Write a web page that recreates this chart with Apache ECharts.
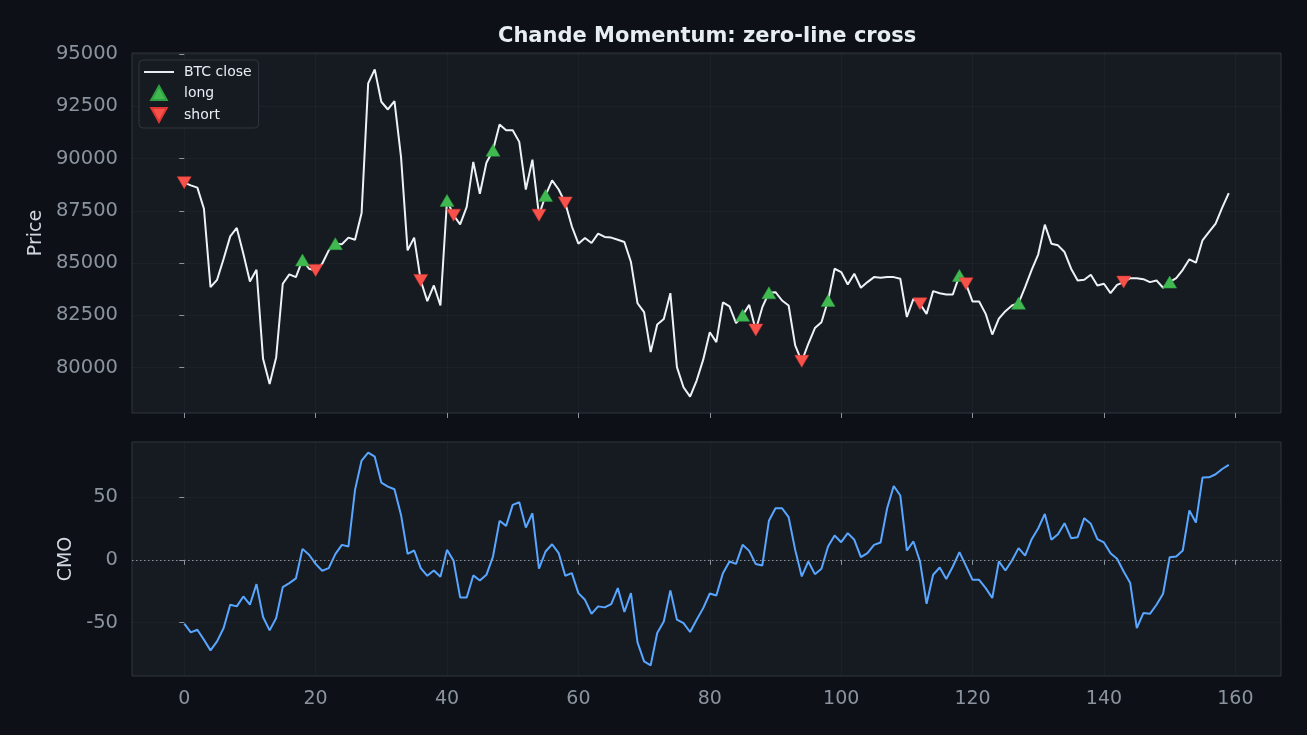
<!DOCTYPE html>
<html>
<head>
<meta charset="utf-8">
<title>Chande Momentum</title>
<script src="https://cdn.jsdelivr.net/npm/echarts@6.0.0/dist/echarts.min.js"></script>
<style>
  html, body { margin: 0; padding: 0; background: #0d1117; }
  #chart { width: 1307px; height: 735px; }
</style>
</head>
<body>
<div id="chart"></div>
<script>
/* data */
var btcClose = [
  88850, 88720, 88610, 87600, 83850, 84200, 85210, 86280, 86680, 85450,
  84120, 84680, 80420, 79220, 80500, 84010, 84460, 84330, 85150, 84730,
  84650, 84970, 85610, 85930, 85900, 86220, 86120, 87400, 93600, 94270,
  92720, 92350, 92750, 90080, 85610, 86220, 84170, 83180, 83930, 82970,
  88000, 87290, 86850, 87690, 89840, 88320, 89800, 90400, 91630, 91360,
  91360, 90800, 88520, 89950, 87290, 88240, 88960, 88520, 87880, 86760,
  85930, 86200, 85960, 86410, 86250, 86220, 86120, 86010, 85050, 83080,
  82650, 80740, 82060, 82330, 83560, 80020, 79060, 78610, 79380, 80380,
  81690, 81220, 83120, 82930, 82130, 82500, 83000, 81800, 82890, 83580,
  83610, 83210, 82970, 81060, 80300, 81140, 81890, 82170, 83210, 84730,
  84570, 83980, 84490, 83820, 84090, 84330, 84300, 84330, 84330, 84250,
  82420, 83290, 83050, 82570, 83660, 83560, 83500, 83500, 84410, 84010,
  83160, 83160, 82570, 81580, 82340, 82700, 82970, 83080, 83850, 84680,
  85420, 86840, 85930, 85850, 85530, 84730, 84170, 84200, 84440, 83930,
  84010, 83560, 83960, 84090, 84280, 84280, 84230, 84090, 84170, 83820,
  84090, 84280, 84680, 85180, 85020, 86090, 86490, 86890, 87650, 88350
];
var cmo = [
  -50.8, -57.7, -55.6, -63.5, -72, -64.8, -54.2, -35.7, -37, -29.1,
  -35.7, -19.3, -45.5, -56.1, -46.3, -21.7, -18.5, -14.8, 8.7, 4,
  -3.2, -8.7, -6.6, 4.5, 11.9, 10.6, 55.6, 78.9, 85.2, 82,
  61.4, 58.2, 56.1, 35.7, 4.8, 7.4, -6.6, -12.7, -8.5, -13.5,
  7.9, -0.8, -29.9, -29.9, -12.4, -16.4, -11.9, 2.6, 31, 27,
  43.7, 45.8, 25.7, 37, -7.1, 6.6, 12.4, 5.3, -12.7, -10.6,
  -26.5, -31.8, -42.9, -37, -37.8, -35.2, -22.5, -41.5, -26.5, -65.6,
  -80.7, -83.9, -58.2, -49, -24.3, -47.6, -50.3, -57.4, -47.6, -38.4,
  -26.8, -28.3, -10.6, -1.3, -3.2, 11.9, 7.1, -3.4, -4.5, 31,
  41, 41, 33.9, 7.9, -13.2, -1.3, -11.4, -7.1, 10.6, 19.3,
  14, 21.2, 15.9, 2.1, 5.3, 11.9, 13.8, 41, 58.7, 51.1,
  7.4, 14.6, -1.3, -34.9, -11.9, -6.1, -15.3, -5.3, 6.1, -4.8,
  -15.9, -15.9, -22.5, -30.4, -1.3, -8.5, -0.5, 9.3, 3.4, 16.4,
  25.1, 36.5, 15.9, 20.4, 29.1, 17.2, 18, 33.1, 28.6, 16.4,
  13.8, 5.3, 0.8, -9.3, -18.5, -54.2, -42.3, -42.9, -35.7, -27,
  2.1, 2.6, 7.4, 39.2, 29.6, 65.4, 65.6, 68, 72.2, 75.4
];
var longIdx = [18, 23, 40, 47, 55, 85, 89, 98, 118, 127, 150];
var shortIdx = [0, 20, 36, 41, 54, 58, 87, 94, 112, 119, 143];
var xTicks = [0, 20, 40, 60, 80, 100, 120, 140, 160];
var priceTicks = [80000, 82500, 85000, 87500, 90000, 92500, 95000];
var cmoTicks = [-50, 0, 50];

function chandeChart(){
  var dom = document.getElementById('chart');
  var myChart = echarts.init(dom, null, { renderer: 'canvas' });

  var font = 'DejaVu Sans';
  var tickColor = '#8b949e';
  var frame = '#30363d';
  var gridLine = 'rgba(255,255,255,0.028)';
  var upTri = 'path://M5,0 L10,9 L0,9 Z';
  var downTri = 'path://M0,0 L10,0 L5,9 Z';

  var closePts = btcClose.map(function(v, i){ return [i, v]; });
  var cmoPts = cmo.map(function(v, i){ return [i, v]; });
  var longPts = longIdx.map(function(i){ return [i, btcClose[i]]; });
  var shortPts = shortIdx.map(function(i){ return [i, btcClose[i]]; });

  function plain(v){ return String(v); }

  function xAx(gi, showLabels){
    return {
      type: 'value', gridIndex: gi, min: -7.95, max: 166.95,
      axisLine: { show: false },
      axisTick: { show: true, length: 5, lineStyle: { color: tickColor }, customValues: xTicks },
      axisLabel: { show: showLabels, color: tickColor, fontSize: 19, fontFamily: font, margin: 14,
                   customValues: xTicks, formatter: plain },
      splitLine: { show: true, lineStyle: { color: gridLine, width: 1 } }
    };
  }
  function yAx(gi, min, max, ticks, name, gap){
    return {
      type: 'value', gridIndex: gi, min: min, max: max,
      name: name, nameLocation: 'middle', nameGap: gap,
      nameTextStyle: { color: '#d0d7de', fontSize: 19, fontFamily: font },
      axisLine: { show: false },
      axisTick: { show: true, length: 5, lineStyle: { color: tickColor }, customValues: ticks },
      axisLabel: { color: tickColor, fontSize: 19.5, fontFamily: font, margin: 14,
                   customValues: ticks, formatter: plain },
      splitLine: { show: true, lineStyle: { color: gridLine, width: 1 } }
    };
  }

  var option = {
    backgroundColor: '#0d1117',
    animation: false,
    title: {
      text: 'Chande Momentum: zero-line cross',
      left: 493, top: 21,
      textStyle: { color: '#e6edf3', fontSize: 21, fontWeight: 'bold', fontFamily: font }
    },
    legend: {
      orient: 'vertical', left: 139, top: 60,
      backgroundColor: '#161b22', borderColor: frame, borderWidth: 1, borderRadius: 4,
      padding: [5, 7, 5, 5], itemGap: 6, itemWidth: 30, itemHeight: 14,
      textStyle: { color: '#e6edf3', fontSize: 14, fontFamily: font, padding: [0, 0, 0, 5] },
      data: [
        { name: 'BTC close', icon: 'path://M0,0 L30,0 L30,2 L0,2 Z' },
        { name: 'long', icon: upTri, itemStyle: { opacity: 1 } },
        { name: 'short', icon: downTri, itemStyle: { opacity: 1 } }
      ]
    },
    grid: [
      { left: 132, top: 53, width: 1149, height: 360, show: true, backgroundColor: '#161b22', borderColor: frame, borderWidth: 1 },
      { left: 132, top: 442, width: 1149, height: 234, show: true, backgroundColor: '#161b22', borderColor: frame, borderWidth: 1 }
    ],
    xAxis: [ xAx(0, false), xAx(1, true) ],
    yAxis: [
      yAx(0, 77827, 95053, priceTicks, 'Price', 80),
      yAx(1, -92.35, 93.65, cmoTicks, 'CMO', 53)
    ],
    series: [
      {
        name: 'BTC close', type: 'line', xAxisIndex: 0, yAxisIndex: 0,
        data: closePts, showSymbol: false, color: '#e6edf3',
        lineStyle: { width: 2, color: '#eef2f6' }, z: 2
      },
      {
        name: 'long', type: 'scatter', xAxisIndex: 0, yAxisIndex: 0,
        data: longPts, symbol: upTri, symbolSize: [14, 12], color: '#3fb950',
        itemStyle: { color: '#3fb950', borderColor: '#2ea043', borderWidth: 0.5, opacity: 1 }, z: 3
      },
      {
        name: 'short', type: 'scatter', xAxisIndex: 0, yAxisIndex: 0,
        data: shortPts, symbol: downTri, symbolSize: [14, 12], color: '#f85149',
        itemStyle: { color: '#f85149', borderColor: '#da3633', borderWidth: 0.5, opacity: 1 }, z: 3
      },
      {
        name: 'CMO', type: 'line', xAxisIndex: 1, yAxisIndex: 1,
        data: cmoPts, showSymbol: false,
        lineStyle: { width: 2, color: '#58a6ff' },
        markLine: {
          silent: true, symbol: 'none', label: { show: false },
          lineStyle: { color: '#8b949e', type: [1.5, 2.5], width: 1 },
          data: [{ yAxis: 0 }]
        }
      }
    ]
  };

  if (option && typeof option === 'object') {
    myChart.setOption(option);
  }
  window.addEventListener('resize', myChart.resize);
}
chandeChart()
</script>
</body>
</html>
